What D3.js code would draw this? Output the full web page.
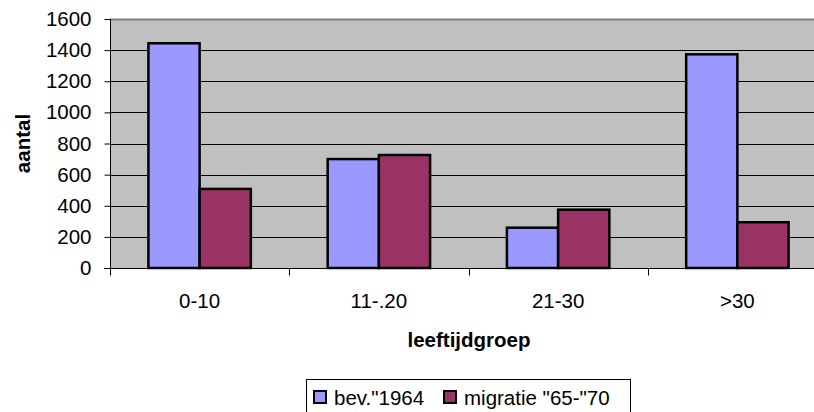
<!DOCTYPE html>
<html><head><meta charset="utf-8">
<script src="https://cdn.jsdelivr.net/npm/d3@7/dist/d3.min.js"></script>
<style>body{margin:0;background:#fff}svg{display:block}text{font-family:"Liberation Sans",Arial,sans-serif;fill:#000}</style>
</head><body><svg id="c" width="814" height="412"></svg>
<script>
const categories = ["0-10", "11-.20", "21-30", ">30"];
const seriesNames = ['bev."1964', 'migratie "65-"70'];
const bev1964 = [1444, 700, 259, 1373];
const migratie = [508, 726, 375, 294];
const yTicks = [0, 200, 400, 600, 800, 1000, 1200, 1400, 1600];
const colors = ["#9999FF", "#993366"];

const FS = 20.5;
const svg = d3.select("#c");
const m = {left:110, top:19, right:827, bottom:268};
const x = d3.scaleBand().domain(categories).range([m.left, m.right]);
const x1 = d3.scaleBand().domain([0,1]).range([0, x.bandwidth()]).paddingOuter(0.75).paddingInner(0);
const y = d3.scaleLinear().domain([0,1600]).range([m.bottom, m.top]);

svg.append("rect").attr("x", m.left).attr("y", m.top).attr("width", m.right-m.left).attr("height", m.bottom-m.top).attr("fill", "#C0C0C0");
svg.append("line").attr("x1", m.left).attr("x2", m.right).attr("y1", m.top+0.5).attr("y2", m.top+0.5).attr("stroke", "#808080").attr("stroke-width", 2);

// gridlines
svg.append("g").selectAll("line").data(yTicks.filter(d=>d>0 && d<1600)).join("line")
  .attr("x1", m.left).attr("x2", m.right).attr("y1", d=>Math.round(y(d))+0.5).attr("y2", d=>Math.round(y(d))+0.5)
  .attr("stroke", "#000").attr("stroke-width", 1);

// bars
const data = [bev1964, migratie];
categories.forEach((c, i) => {
  data.forEach((s, j) => {
    svg.append("rect").attr("x", x(c)+x1(j)).attr("y", y(s[i])).attr("width", x1.bandwidth()).attr("height", y(0)-y(s[i]))
      .attr("fill", colors[j]).attr("stroke", "#000").attr("stroke-width", 2.5);
  });
});

// y axis
const yAxis = d3.axisLeft(y).tickValues(yTicks).tickFormat(d3.format("d")).tickSize(6).tickPadding(13);
const gy = svg.append("g").attr("transform", `translate(${m.left+0.5},0)`).call(yAxis);
gy.select(".domain").attr("stroke", "#000").attr("d", `M0,${m.top}V${m.bottom}`);
gy.selectAll(".tick line").attr("stroke", "#000");
gy.selectAll(".tick text").attr("font-size", FS).attr("font-family", '"Liberation Sans",Arial,sans-serif').attr("fill", "#000");

// x axis
const gx = svg.append("g").attr("transform", `translate(0,${m.bottom+0.5})`);
gx.append("line").attr("x1", m.left-6).attr("x2", m.right).attr("stroke", "#000");
gx.selectAll("line.t").data(categories).join("line").attr("class","t")
  .attr("x1", d=>Math.round(x(d))+0.5).attr("x2", d=>Math.round(x(d))+0.5).attr("y1", 0).attr("y2", 7).attr("stroke", "#000");
gx.selectAll("text").data(categories).join("text")
  .attr("x", d=>x(d)+x.bandwidth()/2).attr("y", 39).attr("text-anchor", "middle").attr("font-size", FS).text(d=>d);

// axis titles
svg.append("text").attr("transform", `translate(30,${(m.top+m.bottom)/2}) rotate(-90)`).attr("text-anchor", "middle")
  .attr("font-size", FS).attr("font-weight", "bold").text("aantal");
svg.append("text").attr("x", 469).attr("y", 347).attr("text-anchor", "middle")
  .attr("font-size", FS).attr("font-weight", "bold").text("leeftijdgroep");

// legend
const lg = svg.append("g");
lg.append("rect").attr("x", 306.5).attr("y", 379.5).attr("width", 324).attr("height", 40).attr("fill", "#fff").attr("stroke", "#000");
const lx = [314, 444];
seriesNames.forEach((n, j) => {
  lg.append("rect").attr("x", lx[j]).attr("y", 391).attr("width", 12).attr("height", 12).attr("fill", colors[j]).attr("stroke", "#000").attr("stroke-width", 2);
  lg.append("text").attr("x", lx[j]+20).attr("y", 405).attr("font-size", FS).text(n);
});
</script></body></html>
